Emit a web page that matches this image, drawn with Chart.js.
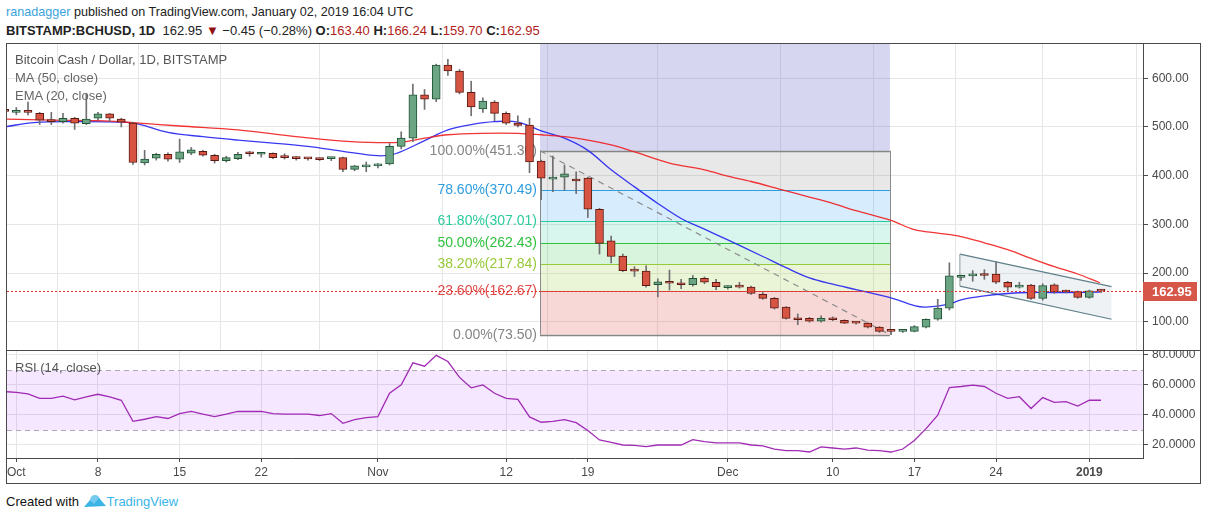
<!DOCTYPE html>
<html>
<head>
<meta charset="utf-8">
<script src="https://cdn.jsdelivr.net/npm/chart.js@4.4.1/dist/chart.umd.min.js"></script>
<style>
  body { margin: 0; width: 1207px; height: 520px; background: #fff; position: relative; overflow: hidden;
         font-family: "Liberation Sans", Arial, sans-serif; }
  canvas { position: absolute; left: 0; }
  .txt { position: absolute; white-space: nowrap; line-height: 16px; }
  .frame { position: absolute; pointer-events: none; }
  .val { color: #b0231b; }
</style>
</head>
<body>
<div class="txt" style="left:6px;top:4px;font-size:12.6px;color:#222"><span style="color:#3aa3dd">ranadagger</span> published on TradingView.com, January 02, 2019 16:04 UTC</div>
<div class="txt" id="quote" style="left:6px;top:23px;font-size:13px;color:#222"></div>

<canvas id="price" width="1207" height="307" style="top:43px"></canvas>
<canvas id="rsi" width="1207" height="133" style="top:350px"></canvas>

<div class="frame" style="left:6px;top:43px;width:1195px;height:441px;border:1px solid #4a4a4a;box-sizing:border-box"></div>
<div class="frame" style="left:6px;top:350px;width:1195px;height:1px;background:#4a4a4a"></div>

<div class="txt" style="left:15px;top:52px;font-size:13px;color:#555">Bitcoin Cash / Dollar, 1D, BITSTAMP</div>
<div class="txt" style="left:15px;top:70px;font-size:13px;color:#666">MA (50, close)</div>
<div class="txt" style="left:15px;top:88px;font-size:13px;color:#666">EMA (20, close)</div>
<div class="txt" style="left:15px;top:360px;font-size:13px;color:#555">RSI (14, close)</div>

<div class="txt" style="left:6px;top:494px;font-size:13px;color:#111">Created with
  <svg width="24" height="14" viewBox="0 0 24 14" style="vertical-align:-2px"><path d="M1 13 L7 6 L11 10 L16 4 L23 12 Z" fill="#3bb4e6"/><circle cx="12" cy="6" r="5" fill="#3bb4e6" opacity="0.7"/></svg><span style="color:#3bb4e6">TradingView</span></div>

<script>
// day index: 0 = 2018-10-01
const startDay = -1;
const opens  = [535, 530, 532, 528, 514, 511, 518, 507, 518, 527, 516, 508, 426, 436, 444, 434, 446, 450, 442, 431,
                435, 446, 444, 446, 438, 437, 435, 434, 435, 437, 413, 418, 420, 424, 460, 477, 566, 557, 627, 615,
                571, 537, 551, 528, 508, 504, 430, 393, 397, 391, 395, 331, 266, 235, 206, 204, 176, 181, 179, 176,
                189, 181, 170, 173, 171, 156, 148, 130, 106, 107, 101, 108, 103, 98, 97, 89, 81, 80, 80, 89,
                105, 128, 191, 194, 196, 198, 181, 171, 175, 148, 176, 162, 162, 150, 163.40];
const highs  = [540, 540, 551, 530, 530, 528, 520, 569, 530, 528, 518, 510, 452, 446, 447, 475, 458, 452, 444, 440,
                448, 450, 448, 447, 445, 439, 437, 436, 438, 438, 421, 428, 425, 466, 490, 588, 577, 629, 639, 618,
                594, 560, 554, 531, 523, 518, 432, 440, 422, 408, 397, 333, 276, 239, 213, 215, 188, 206, 187, 195,
                192, 187, 174, 181, 173, 160, 150, 131, 116, 109, 112, 110, 104, 101, 98, 90, 83, 82, 92, 106,
                146, 221, 196, 205, 207, 223, 183, 181, 177, 178, 178, 165, 163, 165, 166.24];
const lows   = [528, 525, 525, 505, 505, 508, 495, 505, 515, 512, 500, 423, 422, 432, 430, 427, 443, 440, 426, 428,
                433, 440, 438, 435, 434, 432, 432, 431, 431, 408, 410, 408, 416, 422, 455, 470, 536, 552, 606, 568,
                523, 530, 513, 505, 500, 406, 351, 367, 370, 363, 314, 239, 221, 203, 193, 171, 151, 165, 168, 173,
                178, 166, 167, 169, 156, 146, 126, 105, 94, 99, 99, 102, 96, 95, 87, 78, 73.5, 78, 79, 87,
                103, 124, 185, 183, 187, 178, 163, 169, 146, 144, 158, 159, 148, 148, 159.70];
const closes = [532, 534, 530, 514, 511, 518, 508, 516, 527, 518, 510, 427, 434, 444, 434, 449, 453, 442, 431, 437,
                444, 445, 446, 437, 437, 435, 434.5, 433, 437, 413, 420, 420, 423, 460, 477, 566, 557, 627, 615, 571,
                541, 553, 528, 508, 503, 428, 395, 397, 404, 389, 331, 261, 234, 205, 204, 174, 182, 179, 176, 189,
                181, 172, 172, 171, 158, 148, 128, 107, 104, 101, 107, 104, 97, 97, 89, 80, 80, 81, 90, 105,
                128, 194, 193, 196, 195, 181, 171, 175, 148, 174, 161, 161, 150, 163.40, 162.95];

const maDays   = [-0.8, 3, 7, 10, 14, 19, 24, 28, 31, 33, 35, 37, 40, 43, 45, 47, 49, 51, 53, 56, 59, 61, 63, 65.5,
                  68, 70, 72, 75, 77, 79, 81, 83, 85, 87, 89, 91, 92.9];
const maValues = [516, 514, 513, 509, 502, 494, 480, 471, 468, 469, 477, 484, 487, 487, 484, 480, 473, 463, 449, 426,
                  412, 399, 388, 372, 356, 343, 328, 308, 289, 282, 275, 262, 248, 230, 213, 198, 180];

const emaDays   = [-0.8, 1.5, 5, 9, 10.5, 13, 16, 19, 22, 25, 28, 31, 32.5, 35, 37, 39, 41, 43, 45, 47, 49, 51, 53,
                   55, 57, 59, 61, 64, 66, 68, 70, 72, 75, 77, 78, 80, 81, 83, 85, 87, 90, 92.9];
const emaValues = [501, 509, 511, 510, 506, 489, 480, 473, 467, 460, 450, 441, 445, 472, 494, 505, 511, 510, 492, 477,
                   452, 412, 377, 343, 312, 290, 268, 234, 211, 190, 177, 166, 149, 133, 130, 136, 145, 153, 158, 160,
                   160, 161];

const rsiValues = [55.5, 55, 54, 51, 51, 52.4, 50, 52, 53.7, 52, 49.7, 35.6, 37, 38.8, 37.5, 40.8, 42.2, 40.4, 38.8, 40.4,
                   42.2, 42.2, 42.2, 40.8, 40.4, 40.4, 40.4, 39.5, 40.8, 34.3, 36.8, 38.1, 38.8, 54.4, 60, 74.7, 72.5, 79.7,
                   75.6, 65, 58, 60, 54.4, 51, 50.3, 38.6, 35, 35.6, 36.8, 34.7, 29.5, 23.2, 21.5, 19.8, 19.5, 18.7, 19.8,
                   19.8, 19.8, 23.4, 22, 21.2, 21.2, 21.2, 19.8, 19.2, 17.1, 16, 16, 15.1, 18.5, 17.8, 17.1, 17.8, 16.4,
                   16, 15.1, 17.1, 22.8, 30.7, 39.7, 58.2, 58.9, 59.8, 58.9, 54.4, 51, 52.1, 44.2, 51.5, 48.3, 48.8, 45.8,
                   49.7, 49.7];

const tickDays   = [0, 7, 14, 21, 31, 42, 49, 61, 70, 77, 84, 92];
const tickLabels = ['Oct', '8', '15', '22', 'Nov', '12', '19', 'Dec', '10', '17', '24', '2019'];
const priceTicks = [100, 200, 300, 400, 500, 600];
const rsiTicks   = [20, 40, 60, 80];

const fibPercents = ['100.00%', '78.60%', '61.80%', '50.00%', '38.20%', '23.60%', '0.00%'];
const fibPrices   = [451.3, 370.49, 307.01, 262.43, 217.84, 162.67, 73.5];
const fibDays     = [44.9, 74.9];
const trendDays   = [44.9, 74.9];
const trendPrices = [451.3, 73.5];
const channelDays  = [80.9, 93.9];
const channelUpper = [239, 172];
const channelLower = [173, 105];
const lastPrice = 162.95;
const priceChange = -0.45;

const fibColors = ['#858585', '#2f9de0', '#2ccb9d', '#30c23e', '#97c93a', '#e04848', '#858585'];
const fibFills  = ['rgba(128,128,128,0.18)', 'rgba(33,150,243,0.18)', 'rgba(38,198,160,0.18)',
                   'rgba(46,196,62,0.18)', 'rgba(150,200,50,0.2)', 'rgba(224,72,72,0.22)'];

const fontFamily = '"Liberation Sans", Arial, sans-serif';
const last = opens.length - 1;
const fmt = v => v.toFixed(2);

document.getElementById('quote').innerHTML =
    `<b>BITSTAMP:BCHUSD, 1D</b>&nbsp; ${fmt(closes[last])} <span style="color:#8e1010">&#9660;</span> ` +
    `&minus;${Math.abs(priceChange).toFixed(2)} (&minus;${Math.abs(priceChange / opens[last] * 100).toFixed(2)}%) ` +
    `<b>O:</b><span class="val">${fmt(opens[last])}</span> <b>H:</b><span class="val">${fmt(highs[last])}</span> ` +
    `<b>L:</b><span class="val">${fmt(lows[last])}</span> <b>C:</b><span class="val">${fmt(closes[last])}</span>`;

const bodies = opens.map((o, i) => ({x: startDay + i, y: [o, closes[i]]}));
const wicks = opens.map((o, i) => ({x: startDay + i, y: [lows[i], highs[i]]}));
const isUp = ctx => ctx.raw && closes[ctx.dataIndex] >= opens[ctx.dataIndex];

// no label padding reserved at the edges: the plot area must fill the canvas
const noEdgePadding = s => { s.paddingTop = 0; s.paddingBottom = 0; s.paddingLeft = 0; s.paddingRight = 0; };

const xScale = (showTicks) => ({
    type: 'linear',
    min: -0.8,
    max: 96.6,
    offset: false,
    afterBuildTicks: s => { s.ticks = tickDays.map(v => ({value: v})); },
    afterFit: s => { s.height = showTicks ? 25 : 0; noEdgePadding(s); },
    grid: {color: '#e6e6e6', drawTicks: showTicks, tickLength: 4, tickColor: '#4a4a4a'},
    border: {display: showTicks, color: '#4a4a4a'},
    ticks: {
        display: showTicks,
        padding: 3,
        color: '#4a4a4a',
        maxRotation: 0,
        autoSkip: false,
        font: c => ({family: fontFamily, size: 12, weight: c.tick && c.tick.value === 92 ? 'bold' : 'normal'}),
        callback: v => tickLabels[tickDays.indexOf(v)]
    }
});

const yScale = (min, max, ticks, digits) => ({
    position: 'right',
    min: min,
    max: max,
    afterBuildTicks: s => { s.ticks = ticks.map(v => ({value: v})); },
    afterFit: s => { s.width = 64; noEdgePadding(s); },
    grid: {color: '#e6e6e6', tickLength: 5, tickColor: '#4a4a4a'},
    border: {display: true, color: '#4a4a4a'},
    ticks: {padding: 4, color: '#4a4a4a', font: {family: fontFamily, size: 12}, callback: v => v.toFixed(digits)}
});

const priceDrawings = {
    id: 'priceDrawings',
    beforeDatasetsDraw(chart) {
        const {ctx, chartArea: a, scales: {x, y}} = chart;
        ctx.save();
        ctx.beginPath();
        ctx.rect(a.left, a.top, a.width, a.height);
        ctx.clip();
        const x0 = x.getPixelForValue(fibDays[0]), x1 = x.getPixelForValue(fibDays[1]);
        const yTop = y.getPixelForValue(fibPrices[0]);
        // date range shading above the fib
        ctx.fillStyle = 'rgba(102,102,204,0.27)';
        ctx.fillRect(x0, a.top, x1 - x0, yTop - a.top);
        for (let i = 0; i < fibPrices.length - 1; i++) {
            const ya = y.getPixelForValue(fibPrices[i]), yb = y.getPixelForValue(fibPrices[i + 1]);
            ctx.fillStyle = fibFills[i];
            ctx.fillRect(x0, ya, x1 - x0, yb - ya);
        }
        ctx.lineWidth = 1;
        fibPrices.forEach((p, i) => {
            const py = Math.round(y.getPixelForValue(p)) + 0.5;
            ctx.strokeStyle = fibColors[i];
            ctx.lineWidth = (i === 0 || i === 6) ? 1.5 : 1;
            ctx.beginPath(); ctx.moveTo(x0, py); ctx.lineTo(x1, py); ctx.stroke();
            ctx.fillStyle = fibColors[i];
            ctx.font = '14px ' + fontFamily;
            ctx.textAlign = 'right';
            ctx.textBaseline = 'middle';
            ctx.fillText(fibPercents[i] + '(' + fmt(p) + ')', x0 - 3, py);
        });
        ctx.strokeStyle = '#8a8a8a';
        ctx.lineWidth = 1;
        [x0, x1].forEach(px => {
            ctx.beginPath();
            ctx.moveTo(Math.round(px) + 0.5, yTop);
            ctx.lineTo(Math.round(px) + 0.5, y.getPixelForValue(fibPrices[6]));
            ctx.stroke();
        });
        // descending channel
        const cx0 = x.getPixelForValue(channelDays[0]), cx1 = x.getPixelForValue(channelDays[1]);
        const u0 = y.getPixelForValue(channelUpper[0]), u1 = y.getPixelForValue(channelUpper[1]);
        const l0 = y.getPixelForValue(channelLower[0]), l1 = y.getPixelForValue(channelLower[1]);
        ctx.fillStyle = 'rgba(180,195,210,0.22)';
        ctx.beginPath(); ctx.moveTo(cx0, u0); ctx.lineTo(cx1, u1); ctx.lineTo(cx1, l1); ctx.lineTo(cx0, l0); ctx.closePath();
        ctx.fill();
        ctx.strokeStyle = '#5f7f8a';
        ctx.lineWidth = 1.2;
        ctx.beginPath(); ctx.moveTo(cx0, u0); ctx.lineTo(cx1, u1); ctx.stroke();
        ctx.beginPath(); ctx.moveTo(cx0, l0); ctx.lineTo(cx1, l1); ctx.stroke();
        ctx.lineWidth = 1;
        ctx.strokeStyle = '#8a9aa0';
        ctx.beginPath(); ctx.moveTo(cx0, u0); ctx.lineTo(cx0, l0); ctx.stroke();
        ctx.restore();
    },
    afterDatasetsDraw(chart) {
        const {ctx, chartArea: a, scales: {y}} = chart;
        const py = Math.round(y.getPixelForValue(lastPrice)) + 0.5;
        ctx.save();
        ctx.strokeStyle = '#e0342b';
        ctx.lineWidth = 1;
        ctx.setLineDash([2, 2]);
        ctx.beginPath(); ctx.moveTo(a.left, py); ctx.lineTo(a.right, py); ctx.stroke();
        ctx.setLineDash([]);
        ctx.fillStyle = '#d7564a';
        ctx.fillRect(a.right, py - 9.5, 54, 19);
        ctx.fillStyle = '#fff';
        ctx.font = 'bold 13px ' + fontFamily;
        ctx.textAlign = 'left';
        ctx.textBaseline = 'middle';
        ctx.fillText(fmt(lastPrice), a.right + 9, py + 0.5);
        ctx.restore();
    }
};

new Chart(document.getElementById('price'), {
    type: 'bar',
    data: {
        datasets: [
            {
                label: 'bodies', data: bodies, order: 0, grouped: false, barThickness: 8, minBarLength: 2,
                borderSkipped: false, borderWidth: 1,
                backgroundColor: c => isUp(c) ? '#6ba583' : '#d75442',
                borderColor: c => isUp(c) ? '#225437' : '#5b1a13'
            },
            {
                label: 'wicks', data: wicks, order: 1, grouped: false, barThickness: 1,
                backgroundColor: '#707073', borderWidth: 0
            },
            {
                type: 'line', label: 'MA (50, close)', order: 2,
                data: maDays.map((d, i) => ({x: d, y: maValues[i]})),
                borderColor: 'rgba(240,30,30,0.9)', borderWidth: 1.3, pointRadius: 0, tension: 0.35
            },
            {
                type: 'line', label: 'EMA (20, close)', order: 2,
                data: emaDays.map((d, i) => ({x: d, y: emaValues[i]})),
                borderColor: 'rgba(35,35,240,0.9)', borderWidth: 1.3, pointRadius: 0, tension: 0.35
            },
            {
                type: 'line', label: 'trend', order: 3,
                data: trendDays.map((d, i) => ({x: d, y: trendPrices[i]})),
                borderColor: '#8c8c8c', borderWidth: 1.2, borderDash: [6, 5], pointRadius: 0
            }
        ]
    },
    options: {
        responsive: false,
        animation: false,
        events: [],
        layout: {padding: {left: 7, right: 0, top: 0, bottom: 0}},
        plugins: {legend: {display: false}, tooltip: {enabled: false}},
        scales: {
            x: xScale(false),
            y: yScale(41.9, 672.5, priceTicks, 2)
        }
    },
    plugins: [priceDrawings]
});

const rsiBand = {
    id: 'rsiBand',
    beforeDatasetsDraw(chart) {
        const {ctx, chartArea: a, scales: {y}} = chart;
        const y70 = Math.round(y.getPixelForValue(70)) + 0.5, y30 = Math.round(y.getPixelForValue(30)) + 0.5;
        ctx.save();
        ctx.fillStyle = 'rgba(153,21,255,0.1)';
        ctx.fillRect(a.left, y70, a.width, y30 - y70);
        ctx.strokeStyle = '#b0a8b8';
        ctx.lineWidth = 1;
        ctx.setLineDash([5, 4]);
        [y70, y30].forEach(py => { ctx.beginPath(); ctx.moveTo(a.left, py); ctx.lineTo(a.right, py); ctx.stroke(); });
        ctx.restore();
    }
};

new Chart(document.getElementById('rsi'), {
    type: 'line',
    data: {
        datasets: [{
            label: 'RSI (14, close)',
            data: rsiValues.map((v, i) => ({x: startDay + i, y: v})),
            borderColor: '#a12bb5', borderWidth: 1.3, pointRadius: 0, tension: 0
        }]
    },
    options: {
        responsive: false,
        animation: false,
        events: [],
        layout: {padding: {left: 7, right: 0, top: 0, bottom: 0}},
        plugins: {legend: {display: false}, tooltip: {enabled: false}},
        scales: {
            x: xScale(true),
            y: yScale(11.1, 83.3, rsiTicks, 4)
        }
    },
    plugins: [rsiBand]
});
</script>
</body>
</html>
